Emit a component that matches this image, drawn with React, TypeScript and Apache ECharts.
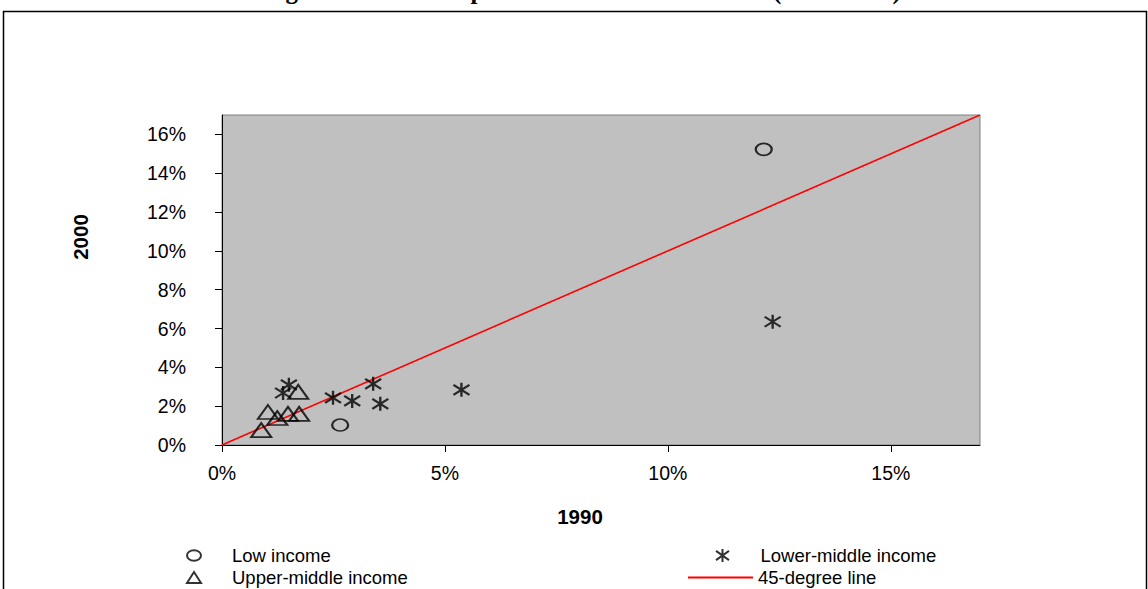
import React, { useEffect, useRef } from "react";
import * as echarts from "echarts";

// Values in percent of GDP: x = 1990, y = 2000
const lowIncomeX = [12.15, 2.65];
const lowIncomeY = [15.23, 1.03];
const lowerMiddleX = [12.35, 5.37, 3.39, 3.55, 2.92, 2.49, 1.5, 1.37];
const lowerMiddleY = [6.35, 2.84, 3.15, 2.12, 2.27, 2.43, 3.1, 2.68];
const upperMiddleX = [1.71, 1.03, 1.24, 1.48, 1.73, 0.88];
const upperMiddleY = [2.74, 1.7, 1.39, 1.6, 1.6, 0.77];
const lineX = [0, 17];
const lineY = [0, 17];
const xTicks = [0, 5, 10, 15];
const yTicks = [0, 2, 4, 6, 8, 10, 12, 14, 16];
const seriesNames = ["Low income", "Lower-middle income", "Upper-middle income", "45-degree line"];
const titleText = "Figure 5: Public Expenditure on Infrastructure (% of GDP)";
const xTitle = "1990";
const yTitle = "2000";

const FONT = "'Liberation Sans', Arial, sans-serif";
const ELLIPSE = "path://M0,6 A8,6 0 1,1 16,6 A8,6 0 1,1 0,6 Z";
const STAR = "path://M7,0 L7,14 M0,2 L14,12 M14,2 L0,12";

const zip = (xs: number[], ys: number[]) => xs.map((x, i) => [x, ys[i]]);

const hollow = { color: "rgba(0,0,0,0)", borderColor: "#000", borderWidth: 2 };

export default function App() {
  const ref = useRef<HTMLDivElement>(null);
  useEffect(() => {
    document.body.style.margin = "0";
    const chart = echarts.init(ref.current!, null, { renderer: "svg" });
    const legendText = (pad: number) => ({
      color: "#000",
      fontFamily: FONT,
      fontSize: 18.5,
      rich: {
        a: { padding: [0, 0, 0, pad], fontFamily: FONT, fontSize: 18.5, lineHeight: 20, color: "#000" },
      },
    });
    const legendBase = { padding: 0, formatter: "{a|{name}}" };
    chart.setOption({
      animation: false,
      backgroundColor: "#fff",
      grid: {
        left: 222,
        top: 115,
        width: 758,
        height: 330,
        show: true,
        backgroundColor: "#C0C0C0",
        borderColor: "#808080",
        borderWidth: 1,
        containLabel: false,
      },
      xAxis: {
        type: "value",
        min: 0,
        max: 17,
        interval: 5,
        axisLine: { show: true, lineStyle: { color: "#000", width: 1 } },
        axisTick: { show: true, length: 7, customValues: xTicks, lineStyle: { color: "#000" } },
        axisLabel: {
          customValues: xTicks,
          formatter: (v: number) => `${v}%`,
          color: "#000",
          fontFamily: FONT,
          fontSize: 19.5,
          margin: 18,
        },
        splitLine: { show: false },
      },
      yAxis: {
        type: "value",
        min: 0,
        max: 17,
        interval: 2,
        axisLine: { show: true, lineStyle: { color: "#000", width: 1 } },
        axisTick: { show: true, length: 7, customValues: yTicks, lineStyle: { color: "#000" } },
        axisLabel: {
          customValues: yTicks,
          formatter: (v: number) => `${v}%`,
          color: "#000",
          fontFamily: FONT,
          fontSize: 19.5,
          margin: 36,
        },
        splitLine: { show: false },
      },
      legend: [
        {
          ...legendBase,
          data: [seriesNames[0]],
          left: 186,
          top: 546,
          icon: ELLIPSE,
          itemWidth: 14,
          itemHeight: 11,
          textStyle: legendText(26),
          itemStyle: hollow,
        },
        {
          ...legendBase,
          data: [seriesNames[2]],
          left: 186,
          top: 568,
          icon: "triangle",
          itemWidth: 14,
          itemHeight: 11,
          textStyle: legendText(26),
          itemStyle: hollow,
        },
        {
          ...legendBase,
          data: [seriesNames[1]],
          left: 715,
          top: 546,
          icon: STAR,
          itemWidth: 14,
          itemHeight: 13,
          textStyle: legendText(26),
          itemStyle: { color: "rgba(0,0,0,0)", borderColor: "#000", borderWidth: 2 },
        },
        {
          ...legendBase,
          data: [seriesNames[3]],
          left: 688,
          top: 568,
          icon: "rect",
          itemWidth: 65,
          itemHeight: 2,
          textStyle: legendText(0),
          itemStyle: { color: "#ff0000" },
        },
      ],
      graphic: [
        {
          type: "rect",
          shape: { x: 3.5, y: 11.5, width: 1143, height: 620 },
          style: { fill: "none", stroke: "#000", lineWidth: 1.5 },
          silent: true,
        },
        {
          type: "text",
          x: 582,
          y: -10,
          style: {
            text: titleText,
            font: "bold 25px 'Liberation Serif', 'Times New Roman', serif",
            fill: "#000",
            align: "center",
            verticalAlign: "middle",
          },
        },
        {
          type: "text",
          x: 580,
          y: 516,
          style: {
            text: xTitle,
            font: `bold 20.5px ${FONT}`,
            fill: "#000",
            align: "center",
            verticalAlign: "middle",
          },
        },
        {
          type: "text",
          x: 80,
          y: 237,
          rotation: Math.PI / 2,
          style: {
            text: yTitle,
            font: `bold 20.5px ${FONT}`,
            fill: "#000",
            align: "center",
            verticalAlign: "middle",
          },
        },
      ],
      series: [
        {
          name: seriesNames[3],
          type: "line",
          data: zip(lineX, lineY),
          showSymbol: false,
          symbol: "none",
          lineStyle: { color: "#ff0000", width: 1.6 },
          itemStyle: { color: "#ff0000" },
          z: 1,
        },
        {
          name: seriesNames[0],
          type: "scatter",
          data: zip(lowIncomeX, lowIncomeY),
          symbol: ELLIPSE,
          symbolSize: [16, 12],
          itemStyle: hollow,
          z: 3,
        },
        {
          name: seriesNames[1],
          type: "scatter",
          data: zip(lowerMiddleX, lowerMiddleY),
          symbol: STAR,
          symbolSize: [16, 14],
          itemStyle: { color: "rgba(0,0,0,0)", borderColor: "#000", borderWidth: 2.2 },
          z: 3,
        },
        {
          name: seriesNames[2],
          type: "scatter",
          data: zip(upperMiddleX, upperMiddleY),
          symbol: "triangle",
          symbolSize: [20, 14],
          itemStyle: hollow,
          z: 3,
        },
      ],
    });
    return () => chart.dispose();
  }, []);
  return <div ref={ref} style={{ width: 1148, height: 589 }} />;
}
